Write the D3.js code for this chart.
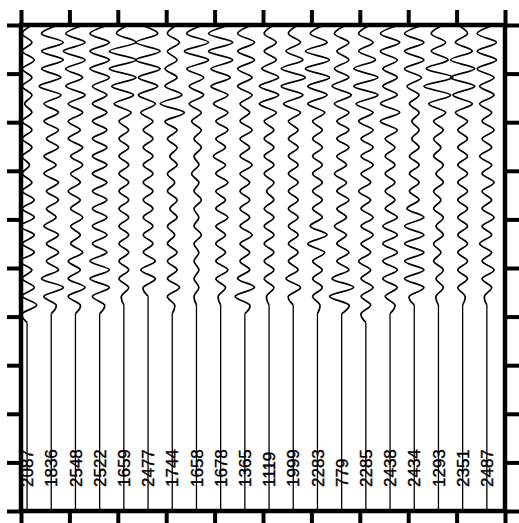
<!DOCTYPE html>
<html><head><meta charset="utf-8">
<script src="https://cdn.jsdelivr.net/npm/d3@7"></script>
<style>body{margin:0;background:#fff}svg{display:block}</style></head><body>
<script>
// Station labels (one per trace, left to right)
const stationLabels = ["2087","1836","2548","2522","1659","2477","1744","1658","1678","1365",
                       "1119","1999","2283","779","2285","2438","2434","1293","2351","2487"];

// Successive extrema of each trace (1/10 of trace spacing)
const tr2087 = [2,-2,2,-2,3,-2,2,-2,2,-1,2,-2,2,-2,2,-2,1,-2,2,-2,3,-2,3,-3,3,-2,3,-3,2,-2,3,-2,4,-2];
const tr1836 = [3,-4,5,-4,5,-4,4,-5,4,-3,3,-3,3,-2,3,-3,2,-3,3,-2,3,-2,2,-3,3,-2,3,-2,3,-4,5,-3,2];
const tr2548 = [4,-4,4,-5,4,-4,3,-4,4,-3,3,-3,2,-3,3,-2,3,-2,2,-3,2,-2,3,-2,2,-2,3,-3,2,-3,4,-3,2];
const tr2522 = [4,-4,4,-4,4,-4,4,-3,3,-3,3,-3,3,-3,3,-3,3,-3,3,-3,3,-3,3,-3,3,-3,3,-4,4,-4,4,-3,2];
const tr1659 = [2,-3,5,-6,5,-6,5,-5,4,-4,3,-2,2,-2,2,-2,2,-2,2,-2,2,-2,2,-2,2,-2,2,-2,2,-2,2,-1];
const tr2477 = [-3,4,-5,5,-5,5,-4,4,-4,3,-3,2,-2,2,-2,2,-2,2,-2,2,-2,2,-2,2,-2,2,-2,3,-3,3,-2];
const tr1744 = [2,-2,3,-2,2,-3,2,-3,4,-5,5,-3,2,-2,2,-1,2,-2,1,-2,2,-1,2,-2,1,-2,2,-2,2,-2,3,-2,1];
const tr1658 = [3,-4,5,-5,5,-4,3,-3,3,-3,2,-2,2,-1,2,-1,1,-2,1,-1,2,-1,1,-1,2,-1,1,-1,1,-1,1,-1];
const tr1678 = [4,-5,5,-5,5,-4,4,-4,3,-3,3,-2,3,-2,2,-3,2,-2,3,-2,2,-2,3,-2,2,-2,2,-2,3,-2,2,-1];
const tr1365 = [3,-3,4,-3,4,-3,3,-3,3,-2,2,-2,3,-2,2,-2,3,-2,2,-2,2,-2,2,-2,3,-2,2,-2,2,-3,4,-4,2];
const tr1119 = [2,-2,3,-2,3,-3,4,-4,4,-4,3,-2,2,-2,2,-2,2,-2,2,-1,2,-2,2,-2,2,-2,2,-2,2,-2,2,-1];
const tr1999 = [2,-2,3,-3,4,-5,5,-5,4,-4,3,-2,2,-2,2,-2,2,-2,2,-2,2,-2,2,-2,2,-2,2,-2,2,-3,3,-2];
const tr2283 = [3,-3,4,-5,5,-5,5,-4,4,-4,3,-2,2,-2,2,-2,2,-2,2,-2,2,-2,2,-3,4,-4,3,-2,2,-2,2,-2,1];
const tr779  = [2,-3,3,-2,3,-3,3,-4,4,-3,3,-2,3,-2,3,-2,2,-3,2,-2,3,-2,2,-3,2,-2,3,-2,3,-4,5,-5,3];
const tr2285 = [2,-3,3,-3,4,-5,5,-5,5,-4,3,-3,3,-2,3,-2,3,-2,2,-3,2,-2,3,-2,3,-2,2,-3,2,-2,3,-2,2,-2];
const tr2438 = [4,-4,4,-4,3,-3,3,-3,3,-4,4,-4,3,-2,2,-2,2,-2,2,-2,2,-2,3,-3,3,-3,3,-3,3,-3,3,-2,2];
const tr2434 = [4,-4,4,-4,4,-4,3,-3,2,-2,2,-1,2,-1,2,-2,2,-2,2,-2,2,-3,4,-4,4,-4,4,-4,4,-4,4,-2];
const tr1293 = [2,-3,3,-3,4,-5,6,-6,5,-4,3,-2,2,-2,1,-2,2,-1,2,-2,1,-2,2,-1,2,-2,1,-2,2,-1,2,-1];
const tr2351 = [-2,2,-3,4,-5,5,-5,5,-4,4,-3,2,-2,2,-2,2,-2,2,-2,2,-2,2,-2,2,-2,2,-2,2,-2,2,-2,1];
const tr2487 = [3,-4,4,-4,4,-4,3,-3,3,-3,2,-2,3,-2,2,-3,2,-2,3,-2,2,-2,3,-2,2,-3,2,-2,3,-2,2,-1];

const traceAmps = [tr2087,tr1836,tr2548,tr2522,tr1659,tr2477,tr1744,tr1658,tr1678,tr1365,
                   tr1119,tr1999,tr2283,tr779,tr2285,tr2438,tr2434,tr1293,tr2351,tr2487];

const xTicks = [0,2,4,6,8,10,12,14,16,18,20];
const yTicks = [0,1,2,3,4,5,6,7,8,9,10];
const sampleStep = 0.18;   // time between successive extrema
const traceOffset = 0.25;  // trace baseline within its slot

const W = 519, H = 523;
const svg = d3.select("body").append("svg").attr("width", W).attr("height", H);
const x = d3.scaleLinear().domain([0, 20]).range([21, 505]);
const y = d3.scaleLinear().domain([0, 10]).range([25, 511]);

svg.append("clipPath").attr("id", "clip").append("rect")
  .attr("x", x(0)).attr("y", y(0)).attr("width", x(20) - x(0)).attr("height", y(10) - y(0));

const line = d3.line().x(d => x(d[0])).y(d => y(d[1])).curve(d3.curveCardinal.tension(0));
const tail = d3.line().x(d => x(d[0])).y(d => y(d[1]));

const g = svg.append("g").attr("clip-path", "url(#clip)");
traceAmps.forEach((amps, i) => {
  const base = i + traceOffset;
  const pts = amps.map((a, k) => [base + a / 10, k * sampleStep]);
  const tEnd = amps.length * sampleStep;
  pts.push([base, tEnd]);
  g.append("path").attr("d", line(pts)).attr("fill", "none").attr("stroke", "#000").attr("stroke-width", 1.7);
  g.append("path").attr("d", tail([[base, tEnd], [base, 10]])).attr("fill", "none").attr("stroke", "#000").attr("stroke-width", 1.3);
});

// labels
svg.append("g").selectAll("text").data(stationLabels).join("text")
  .attr("transform", (d, i) => `translate(${x(i + traceOffset)},487) rotate(-90)`)
  .attr("dy", "0.36em")
  .attr("font-family", "Liberation Sans, Arial, sans-serif")
  .attr("font-size", 17)
  .attr("fill", "#000")
  .attr("stroke", "#000")
  .attr("stroke-width", 0.4)
  .text(d => d);

// ticks via axes
function styleAxis(sel) {
  sel.select(".domain").remove();
  sel.selectAll(".tick line").attr("stroke", "#000").attr("stroke-width", 4);
  sel.selectAll(".tick text").remove();
}
svg.append("g").attr("transform", `translate(0,${y(0)})`)
  .call(d3.axisTop(x).tickValues(xTicks).tickSize(15).tickFormat("")).call(styleAxis);
svg.append("g").attr("transform", `translate(0,${y(10)})`)
  .call(d3.axisBottom(x).tickValues(xTicks).tickSize(14).tickFormat("")).call(styleAxis);
svg.append("g").attr("transform", `translate(${x(0)},0)`)
  .call(d3.axisLeft(y).tickValues(yTicks).tickSize(14).tickFormat("")).call(styleAxis);
svg.append("g").attr("transform", `translate(${x(20)},0)`)
  .call(d3.axisRight(y).tickValues(yTicks).tickSize(14).tickFormat("")).call(styleAxis);

// frame
svg.append("rect").attr("x", x(0)).attr("y", y(0)).attr("width", x(20) - x(0)).attr("height", y(10) - y(0))
  .attr("fill", "none").attr("stroke", "#000").attr("stroke-width", 4.5);
</script>
</body></html>
